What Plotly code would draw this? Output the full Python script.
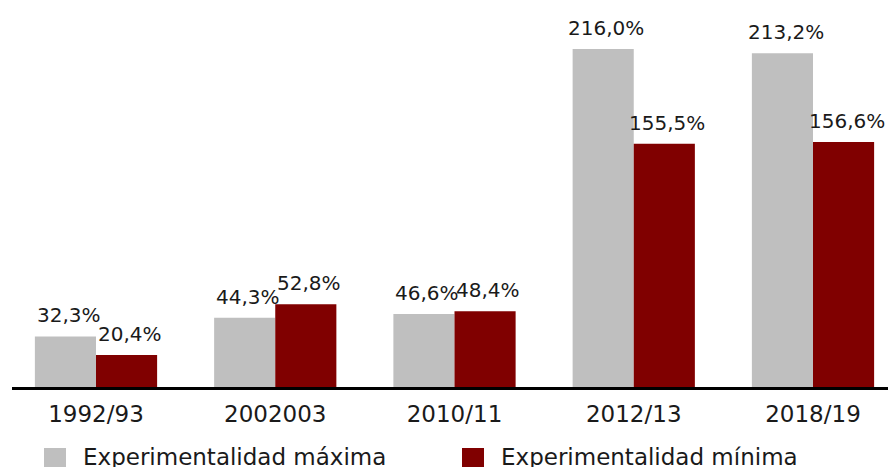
import plotly.graph_objects as go

categories = ["1992/93", "2002003", "2010/11", "2012/13", "2018/19"]
maxima = [32.3, 44.3, 46.6, 216.0, 213.2]
minima = [20.4, 52.8, 48.4, 155.5, 156.6]
series_names = ["Experimentalidad máxima", "Experimentalidad mínima"]
colors = ["#bfbfbf", "#800000"]

FONT = "DejaVu Sans"
W, H = 896, 467
OFF = 8  # page body margin offset
ML, MR, MT = 12 - OFF, 0, 0
BASE = 387 - OFF  # baseline in figure px
MB = H - BASE
PW = W - ML - MR
PH = BASE - MT
STEP = 179.25
X0 = (96 - OFF - ML) / STEP

def fmt(v):
    return f"{v:.1f}%".replace(".", ",")

fig = go.Figure()
for name, vals, col in [(series_names[0], maxima, colors[0]), (series_names[1], minima, colors[1])]:
    fig.add_trace(go.Bar(x=categories, y=vals, name=name, marker_color=col,
                         marker_line_width=0, showlegend=False))

annotations = []
for vals, shift in [(maxima, -30.5), (minima, 30.5)]:
    for i, v in enumerate(vals):
        annotations.append(dict(x=i, y=v, xref="x", yref="y", text=fmt(v),
                                showarrow=False, xshift=shift + 3, yshift=7,
                                yanchor="bottom", xanchor="center",
                                font=dict(family=FONT, size=20, color="#1a1a1a")))

# manual legend (screen px -> paper)
def px2x(px):
    return (px - OFF - ML) / PW

def py2y(py):
    return (BASE - (py - OFF)) / PH

shapes = []
legend_items = [(44, series_names[0], colors[0]), (462, series_names[1], colors[1])]
for px, name, col in legend_items:
    shapes.append(dict(type="rect", xref="paper", yref="paper",
                       x0=px2x(px), x1=px2x(px + 22),
                       y0=py2y(448), y1=py2y(472),
                       fillcolor=col, line_width=0))
    annotations.append(dict(x=px2x(px + 37), y=py2y(457), xref="paper", yref="paper",
                            text=name, showarrow=False, xanchor="left", yanchor="middle",
                            font=dict(family=FONT, size=23, color="#1a1a1a")))

fig.update_layout(
    width=W, height=H,
    margin=dict(l=ML, r=MR, t=MT, b=MB, pad=0),
    paper_bgcolor="white", plot_bgcolor="white",
    barmode="group", bargap=0.318, bargroupgap=0,
    annotations=annotations, shapes=shapes,
    showlegend=False,
    font=dict(family=FONT, size=20, color="#1a1a1a"),
)
fig.update_xaxes(type="category", range=[-X0, -X0 + PW / STEP], showline=True, linecolor="black", linewidth=3,
                 ticks="", ticklabelstandoff=4, showgrid=False,
                 tickfont=dict(family=FONT, size=23, color="#1a1a1a"))
fig.update_yaxes(range=[0, PH / 1.565], visible=False, showgrid=False, zeroline=False)

fig.write_html("out.html")
